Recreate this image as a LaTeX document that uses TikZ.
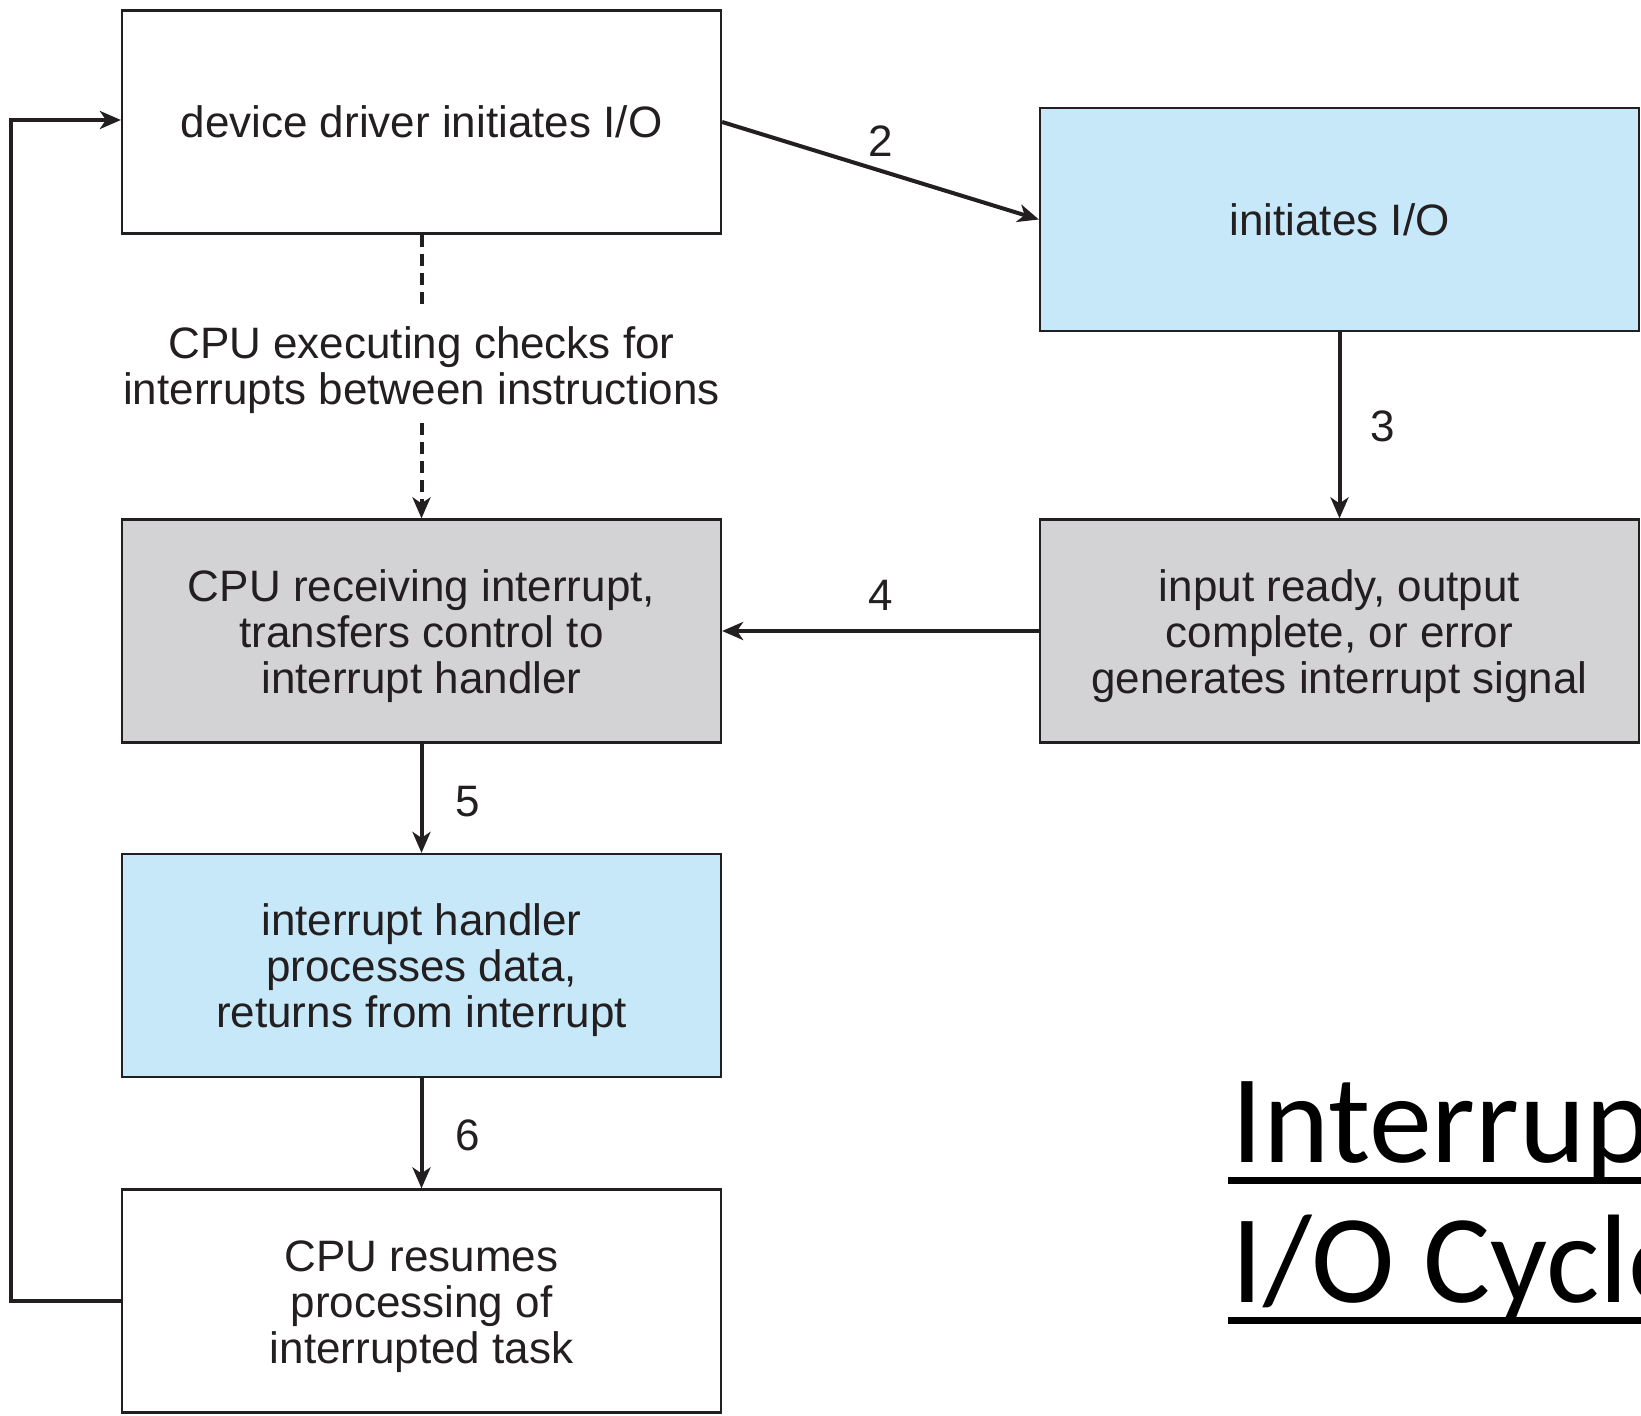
\documentclass[tikz,border=0pt]{standalone}
\usepackage{fontspec}
\setmainfont{Liberation Sans}
\newfontfamily\titlefont{Carlito}
\usetikzlibrary{arrows.meta}
\definecolor{ink}{HTML}{231F20}
\definecolor{boxblue}{HTML}{C6E8F8}
\definecolor{boxgray}{HTML}{D3D3D5}
\newcommand{\firstline}{\rule{0pt}{21pt}}
\begin{document}
\begin{tikzpicture}[x=0.5pt,y=-0.5pt,
  box/.style={draw=ink,line width=1.1pt,minimum width=299.5pt,minimum height=111.5pt,
    inner sep=0pt,align=center,font=\fontsize{22pt}{23pt}\selectfont,text=ink},
  bluebox/.style={box,fill=boxblue},
  graybox/.style={box,fill=boxgray},
  whitebox/.style={box,fill=white},
  tip/.style={-{Stealth[length=10.5pt,width=9pt,inset=3pt]}},
  conn/.style={draw=ink,line width=2pt,tip},
  dashline/.style={draw=ink,line width=2pt,dash pattern=on 6pt off 3.5pt},
  lbl/.style={font=\fontsize{22pt}{23pt}\selectfont,text=ink,inner sep=0pt},
  titletext/.style={anchor=base west,inner sep=0pt,font=\titlefont\fontsize{63pt}{70pt}\selectfont,text=black}]
\clip (0,0) rectangle (1641,1416);
\fill[white] (0,0) rectangle (1641,1416);

\node[whitebox] (b1) at (421.5,122) {device driver initiates I/O};
\node[bluebox]  (b2) at (1339.5,219.5) {initiates I/O};
\node[graybox]  (b3) at (421.5,631) {\firstline CPU receiving interrupt,\\transfers control to\\interrupt handler};
\node[graybox]  (b4) at (1339.5,631) {\firstline input ready, output\\complete, or error\\generates interrupt signal};
\node[bluebox]  (b5) at (421.5,965.5) {\firstline interrupt handler\\processes data,\\returns from interrupt};
\node[whitebox] (b6) at (421.5,1301) {\firstline CPU resumes\\processing of\\interrupted task};

\node[lbl,align=center] (chk) at (421.5,370.5) {CPU executing checks for\\interrupts between instructions};
\coordinate (dtop) at (421.5,307);
\coordinate (dbot) at (421.5,423);

\draw[dashline] (b1.south) -- (dtop);
\draw[dashline,tip] (dbot) -- (b3.north);

\draw[conn] (b1.east) -- (b2.west);
\draw[conn] (b2.south) -- (b4.north);
\draw[conn] (b4.west) -- (b3.east);
\draw[conn] (b3.south) -- (b5.north);
\draw[conn] (b5.south) -- (b6.north);

\coordinate (lb) at (10.5,1301);
\coordinate (lt) at (10.5,120);
\draw[conn] (b6.west) -- (lb) -- (lt) -- (lt -| b1.west);

\node[lbl] (n2) at (881,141) {2};
\node[lbl] (n3) at (1383,426) {3};
\node[lbl] (n4) at (881,595) {4};
\node[lbl] (n5) at (468,802) {5};
\node[lbl] (n6) at (468,1135) {6};

\node[titletext] (t1) at (1231,1162) {Interrupt-driven};
\node[titletext] (t2) at (1231,1302) {I/O Cycle};
\draw[line width=3.5pt,black] (1228,1180) -- (1641,1180);
\draw[line width=3.5pt,black] (1228,1320) -- (1641,1320);
\end{tikzpicture}
\end{document}
